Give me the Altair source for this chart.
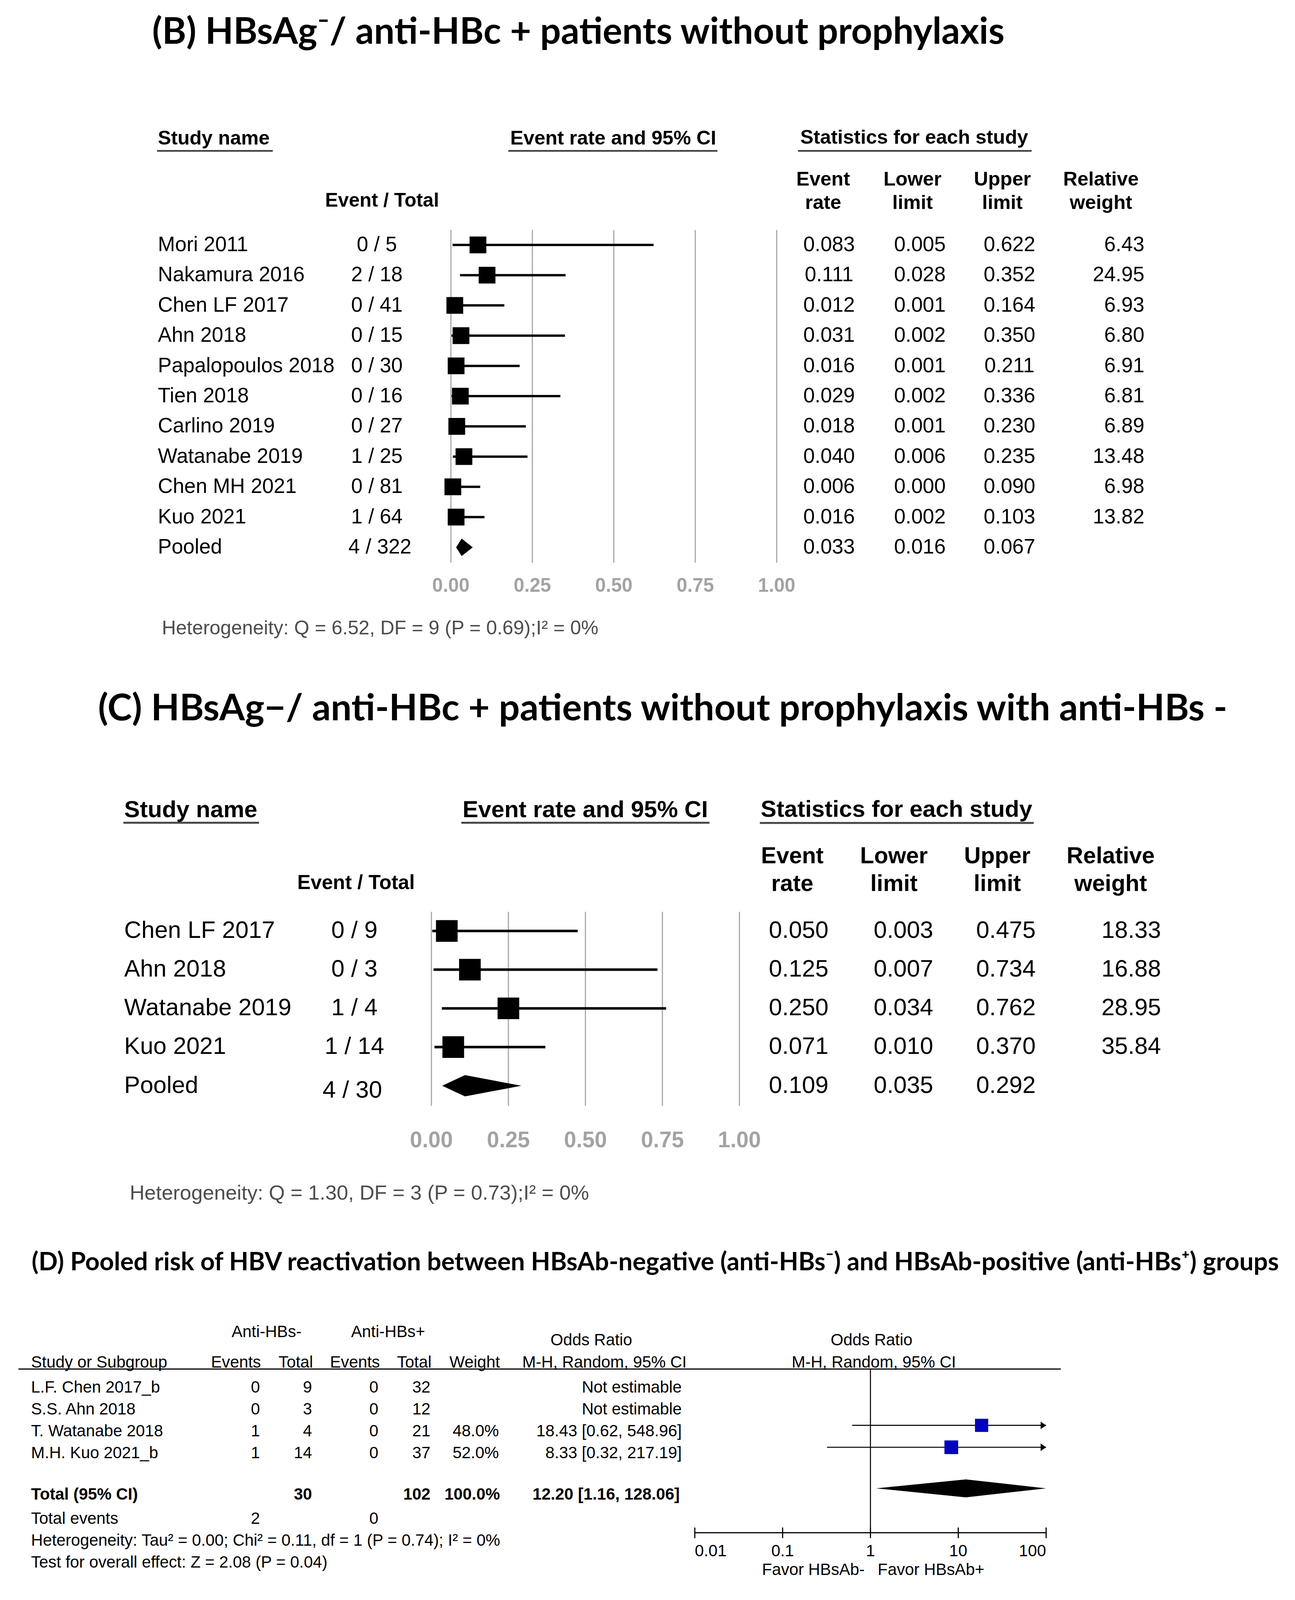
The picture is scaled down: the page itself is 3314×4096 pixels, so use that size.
import altair as alt
import pandas as pd

# ---------------- data (B) ----------------
b_studies = ["Mori 2011", "Nakamura 2016", "Chen LF 2017", "Ahn 2018", "Papalopoulos 2018",
             "Tien 2018", "Carlino 2019", "Watanabe 2019", "Chen MH 2021", "Kuo 2021", "Pooled"]
b_event_total = ["0 / 5", "2 / 18", "0 / 41", "0 / 15", "0 / 30", "0 / 16", "0 / 27",
                 "1 / 25", "0 / 81", "1 / 64", "4 / 322"]
b_rate = [0.083, 0.111, 0.012, 0.031, 0.016, 0.029, 0.018, 0.040, 0.006, 0.016, 0.033]
b_lower = [0.005, 0.028, 0.001, 0.002, 0.001, 0.002, 0.001, 0.006, 0.000, 0.002, 0.016]
b_upper = [0.622, 0.352, 0.164, 0.350, 0.211, 0.336, 0.230, 0.235, 0.090, 0.103, 0.067]
b_weight = [6.43, 24.95, 6.93, 6.80, 6.91, 6.81, 6.89, 13.48, 6.98, 13.82, None]
b_ticks = [0.0, 0.25, 0.5, 0.75, 1.0]

# ---------------- data (C) ----------------
c_studies = ["Chen LF 2017", "Ahn 2018", "Watanabe 2019", "Kuo 2021", "Pooled"]
c_event_total = ["0 / 9", "0 / 3", "1 / 4", "1 / 14", "4 / 30"]
c_rate = [0.050, 0.125, 0.250, 0.071, 0.109]
c_lower = [0.003, 0.007, 0.034, 0.010, 0.035]
c_upper = [0.475, 0.734, 0.762, 0.370, 0.292]
c_weight = [18.33, 16.88, 28.95, 35.84, None]
c_ticks = [0.0, 0.25, 0.5, 0.75, 1.0]

# ---------------- data (D) ----------------
d_studies = ["L.F. Chen 2017_b", "S.S. Ahn 2018", "T. Watanabe 2018", "M.H. Kuo 2021_b"]
d_events_neg = [0, 0, 1, 1]
d_total_neg = [9, 3, 4, 14]
d_events_pos = [0, 0, 0, 0]
d_total_pos = [32, 12, 21, 37]
d_weight = [None, None, 48.0, 52.0]
d_or = [None, None, 18.43, 8.33]
d_or_lower = [None, None, 0.62, 0.32]
d_or_upper = [None, None, 548.96, 217.19]
d_total_counts = [30, 102]
d_total_events = [2, 0]
d_total_weight = 100.0
d_pooled = [12.20, 1.16, 128.06]
d_ticks = [0.01, 0.1, 1, 10, 100]
d_tick_labels = ["0.01", "0.1", "1", "10", "100"]

# ---------------- layout helpers ----------------
K = 3314 / 1268.0          # reference-preview px -> page px


def P(v):
    return round(v * K - 8, 2)


def F(v):
    return round(v * K, 2)


ARIAL = "Liberation Sans"
TITLE = "Lato"
GRID = "#a8a8a8"
TICK = "#a3a3a3"
UNDER = "#454545"
HET = "#4d4d4d"
ONE = pd.DataFrame({"t": [""]})


def txt(s, x, y, size, bold=False, align="left", color="black", font=ARIAL):
    return alt.Chart(pd.DataFrame({"t": [s]})).mark_text(
        align=align, baseline="middle", fontSize=F(size),
        fontWeight="bold" if bold else "normal", color=color, font=font
    ).encode(text="t:N", x=alt.value(P(x)), y=alt.value(P(y)))


def hline(x1, x2, y, w, color):
    return alt.Chart(ONE).mark_rule(color=color, strokeWidth=w).encode(
        x=alt.value(P(x1)), x2=alt.value(P(x2)), y=alt.value(P(y)))


def forest(names, et, rate, lo, hi, wt, ticks, c):
    n = len(names)
    df = pd.DataFrame({"name": names, "et": et, "rate": rate, "lo": lo, "hi": hi, "w": wt})
    df["row"] = list(range(n))
    df["rate_s"] = [f"{v:.3f}" for v in rate]
    df["lo_s"] = [f"{v:.3f}" for v in lo]
    df["hi_s"] = [f"{v:.3f}" for v in hi]
    df["w_s"] = ["" if v is None else f"{v:.2f}" for v in wt]
    xs = alt.Scale(domain=[0, 1], range=[P(c["x0"]), P(c["x1"])], zero=False, nice=False)
    ys = alt.Scale(domain=[0, n - 1], range=[P(c["y0"]), P(c["yN"])], zero=False, nice=False)

    def X(f):
        return alt.X(f, scale=xs, axis=None)

    def Y(f="row:Q"):
        return alt.Y(f, scale=ys, axis=None)

    studies = df.iloc[:-1]
    pooled = df.iloc[-1:]
    tdf = pd.DataFrame({"t": ticks, "lab": [f"{t:.2f}" for t in ticks]})
    L = []
    L.append(alt.Chart(tdf).mark_rule(color=GRID, strokeWidth=c["grid_w"]).encode(
        x=X("t:Q"), y=alt.value(P(c["gt"])), y2=alt.value(P(c["gb"]))))
    L.append(alt.Chart(tdf).mark_text(font=ARIAL, fontSize=F(c["tick_size"]), fontWeight="bold",
                                      color=TICK, baseline="middle").encode(
        x=X("t:Q"), y=alt.value(P(c["tick_y"])), text="lab:N"))
    L.append(alt.Chart(studies).mark_rule(color="black", strokeWidth=c["ci_w"]).encode(
        x=X("lo:Q"), x2="hi:Q", y=Y()))
    L.append(alt.Chart(studies).mark_square(color="black", opacity=1, size=F(c["sq"]) ** 2).encode(
        x=X("rate:Q"), y=Y()))
    h = c["dia_h"]
    r = n - 1
    dia = pd.DataFrame({"x": [lo[-1], rate[-1], hi[-1]], "ya": [r, r - h, r], "yb": [r, r + h, r]})
    L.append(alt.Chart(dia).mark_area(color="black", opacity=1, orient="vertical").encode(
        x=X("x:Q"), y=Y("ya:Q"), y2="yb:Q"))
    # text columns
    L.append(alt.Chart(df).mark_text(font=ARIAL, fontSize=F(c["size"]), align="left", baseline="middle").encode(
        x=alt.value(P(c["name_x"])), y=Y(), text="name:N"))
    L.append(alt.Chart(studies).mark_text(font=ARIAL, fontSize=F(c["size"]), align="center", baseline="middle").encode(
        x=alt.value(P(c["et_x"])), y=Y(), text="et:N"))
    L.append(alt.Chart(pooled).mark_text(font=ARIAL, fontSize=F(c["size"]), align="center", baseline="middle",
                                         dx=F(c["pool_dx"]), dy=F(c["pool_dy"])).encode(
        x=alt.value(P(c["et_x"])), y=Y(), text="et:N"))
    for col, xx in zip(["rate_s", "lo_s", "hi_s"], c["stat_x"]):
        L.append(alt.Chart(df).mark_text(font=ARIAL, fontSize=F(c["size"]), align="center", baseline="middle").encode(
            x=alt.value(P(xx)), y=Y(), text=f"{col}:N"))
    L.append(alt.Chart(studies).mark_text(font=ARIAL, fontSize=F(c["size"]), align="right", baseline="middle").encode(
        x=alt.value(P(c["w_x"])), y=Y(), text="w_s:N"))
    return L


layers = []

# ================= panel B =================
layers.append(txt("(B) HBsAg\u207b/ anti-HBc + patients without prophylaxis", 149, 32, 35.8, bold=True, font=TITLE))
hb = 19.3
layers += [
    txt("Study name", 154.6, 136, hb, bold=True),
    hline(153.8, 267.1, 147.8, 4.5, UNDER),
    txt("Event rate and 95% CI", 499.6, 136, hb, bold=True),
    hline(497.7, 702.5, 147.8, 4.5, UNDER),
    txt("Statistics for each study", 783.6, 135.1, hb, bold=True),
    hline(781.4, 1010.1, 147.8, 4.5, UNDER),
    txt("Event / Total", 374.1, 196.8, 19, bold=True, align="center"),
]
for (a, b), xx in zip([("Event", "rate"), ("Lower", "limit"), ("Upper", "limit"), ("Relative", "weight")],
                      [806, 893.5, 981.5, 1078]):
    layers.append(txt(a, xx, 176.1, hb, bold=True, align="center"))
    layers.append(txt(b, xx, 198.9, hb, bold=True, align="center"))

layers += forest(b_studies, b_event_total, b_rate, b_lower, b_upper, b_weight, b_ticks, dict(
    x0=441.5, x1=760.5, y0=239.9, yN=536.1, gt=225.3, gb=551.3, grid_w=3, tick_y=574.1, tick_size=18.8,
    ci_w=6, sq=16.4, dia_h=0.29, size=20.2, name_x=154.6, et_x=369, pool_dx=3, pool_dy=0,
    stat_x=[811.8, 900.7, 988.4], w_x=1120.5))
layers.append(txt("Heterogeneity: Q = 6.52, DF = 9 (P = 0.69);I\u00b2 = 0%", 158.5, 615.5, 19.1, color=HET))

# ================= panel C =================
layers.append(txt("(C) HBsAg\u2212/ anti-HBc + patients without prophylaxis with anti-HBs -", 96, 695, 36.2, bold=True, font=TITLE))
hc = 23
layers += [
    txt("Study name", 121.6, 793.4, hc, bold=True),
    hline(120.8, 253.6, 805.9, 5, UNDER),
    txt("Event rate and 95% CI", 452.9, 793.4, hc, bold=True),
    hline(451.7, 694.7, 805.9, 5, UNDER),
    txt("Statistics for each study", 744.9, 793, hc, bold=True),
    hline(744.0, 1012.2, 806.1, 5, UNDER),
    txt("Event / Total", 348.6, 865, 19.6, bold=True, align="center"),
]
for (a, b), xx in zip([("Event", "rate"), ("Lower", "limit"), ("Upper", "limit"), ("Relative", "weight")],
                      [775.8, 875.3, 976.5, 1087.5]):
    layers.append(txt(a, xx, 838.6, 22.5, bold=True, align="center"))
    layers.append(txt(b, xx, 865.8, 22.5, bold=True, align="center"))

layers += forest(c_studies, c_event_total, c_rate, c_lower, c_upper, c_weight, c_ticks, dict(
    x0=422.4, x1=724.0, y0=911.9, yN=1063.5, gt=893.1, gb=1083.2, grid_w=3, tick_y=1117.3, tick_size=21.6,
    ci_w=6.5, sq=21.2, dia_h=0.275, size=23.3, name_x=121.6, et_x=347, pool_dx=-2, pool_dy=4.7,
    stat_x=[782, 884.6, 984.9], w_x=1136.8))
layers.append(txt("Heterogeneity: Q = 1.30, DF = 3 (P = 0.73);I\u00b2 = 0%", 127, 1169, 20.1, color=HET))

# ================= panel D =================
layers.append(txt("(D) Pooled risk of HBV reactivation between HBsAb-negative (anti-HBs\u207b) and "
                  "HBsAb-positive (anti-HBs\u207a) groups", 31, 1237, 24.6, bold=True, font=TITLE))
fd = 16
cols_right = [254.5, 305.5, 370.5, 421.5, 488.5, 667.5]
layers += [
    txt("Anti-HBs-", 261, 1304.6, fd, align="center"),
    txt("Anti-HBs+", 380, 1304.6, fd, align="center"),
    txt("Odds Ratio", 579, 1312.9, fd, align="center"),
    txt("Odds Ratio", 853.4, 1312.9, fd, align="center"),
    txt("Study or Subgroup", 30.4, 1334.6, fd),
    txt("Events", 255.5, 1334.6, fd, align="right"),
    txt("Total", 306.5, 1334.6, fd, align="right"),
    txt("Events", 372, 1334.6, fd, align="right"),
    txt("Total", 422.5, 1334.6, fd, align="right"),
    txt("Weight", 489.5, 1334.6, fd, align="right"),
    txt("M-H, Random, 95% CI", 591.8, 1334.6, fd, align="center"),
    txt("M-H, Random, 95% CI", 855.6, 1334.6, fd, align="center"),
    hline(18, 1038.7, 1341, 3, "black"),
]

dd = pd.DataFrame({
    "name": d_studies,
    "e1": [str(v) for v in d_events_neg],
    "t1": [str(v) for v in d_total_neg],
    "e2": [str(v) for v in d_events_pos],
    "t2": [str(v) for v in d_total_pos],
    "w": ["" if v is None else f"{v:.1f}%" for v in d_weight],
    "or_s": ["Not estimable" if o is None else f"{o:.2f} [{a:.2f}, {b:.2f}]"
             for o, a, b in zip(d_or, d_or_lower, d_or_upper)],
})
dd["row"] = list(range(len(d_studies)))
ysD = alt.Scale(domain=[0, 3], range=[P(1359), P(1423.5)], zero=False, nice=False)
YD = alt.Y("row:Q", scale=ysD, axis=None)
for col, xx in zip(["e1", "t1", "e2", "t2", "w", "or_s"], cols_right):
    layers.append(alt.Chart(dd).mark_text(font=ARIAL, fontSize=F(fd), align="right", baseline="middle").encode(
        x=alt.value(P(xx)), y=YD, text=f"{col}:N"))
layers.append(alt.Chart(dd).mark_text(font=ARIAL, fontSize=F(fd), align="left", baseline="middle").encode(
    x=alt.value(P(30.4)), y=YD, text="name:N"))

TOT_ROW = 4.875
tot = pd.DataFrame({
    "row": [TOT_ROW] * 5,
    "lab": ["Total (95% CI)", str(d_total_counts[0]), str(d_total_counts[1]), f"{d_total_weight:.1f}%",
            f"{d_pooled[0]:.2f} [{d_pooled[1]:.2f}, {d_pooled[2]:.2f}]"],
    "al": ["left", "right", "right", "right", "right"],
})
tot_x = [30.4, 305.5, 421.5, 489.5, 665.5]
for i in range(5):
    layers.append(alt.Chart(tot.iloc[[i]]).mark_text(font=ARIAL, fontSize=F(fd), fontWeight="bold",
                                                     align=tot["al"][i], baseline="middle").encode(
        x=alt.value(P(tot_x[i])), y=YD, text="lab:N"))

layers += [
    txt("Total events", 30.4, 1487.5, fd),
    txt(str(d_total_events[0]), 254.5, 1487.5, fd, align="right"),
    txt(str(d_total_events[1]), 370.5, 1487.5, fd, align="right"),
    txt("Heterogeneity: Tau\u00b2 = 0.00; Chi\u00b2 = 0.11, df = 1 (P = 0.74); I\u00b2 = 0%", 30.4, 1509, fd),
    txt("Test for overall effect: Z = 2.08 (P = 0.04)", 30.4, 1530.5, fd),
]

# forest D
xsD = alt.Scale(type="log", domain=[0.01, 100], range=[P(680.3), P(1024.3)], nice=False)
yfD = alt.Scale(domain=[0, 3], range=[P(1353.2), P(1417.6)], zero=False, nice=False)
XMAX = d_ticks[-1]
fdf = pd.DataFrame({"or": d_or, "lo": d_or_lower, "hi": d_or_upper, "w": d_weight,
                    "row": list(range(len(d_or)))}).dropna()
fdf["hi_c"] = [min(v, XMAX) for v in fdf["hi"]]
fdf["arrow"] = [XMAX if v > XMAX else None for v in fdf["hi"]]

layers.append(alt.Chart(ONE).mark_rule(color="black", strokeWidth=2.6).encode(
    x=alt.datum(1, scale=xsD, axis=None), y=alt.value(P(1341)), y2=alt.value(P(1501.3))))
layers.append(alt.Chart(fdf).mark_rule(color="black", strokeWidth=2.6).encode(
    x=alt.X("lo:Q", scale=xsD, axis=None), x2="hi_c:Q", y=alt.Y("row:Q", scale=yfD, axis=None)))
layers.append(alt.Chart(fdf.dropna(subset=["arrow"])).mark_point(
    shape="M-1.45,-1L0,0L-1.45,1Z", filled=True, color="black", opacity=1, size=(F(7.4)) ** 2).encode(
    x=alt.X("arrow:Q", scale=xsD, axis=None), y=alt.Y("row:Q", scale=yfD, axis=None)))
layers.append(alt.Chart(fdf).mark_square(color="#0000c0", opacity=1).encode(
    x=alt.X("or:Q", scale=xsD, axis=None), y=alt.Y("row:Q", scale=yfD, axis=None),
    size=alt.Size("w:Q", scale=alt.Scale(domain=[0, 100], range=[0, 2 * F(13.2) ** 2]), legend=None)))
dh = 0.41
diaD = pd.DataFrame({"x": [d_pooled[1], d_pooled[0], min(d_pooled[2], XMAX)],
                     "ya": [TOT_ROW, TOT_ROW - dh, TOT_ROW], "yb": [TOT_ROW, TOT_ROW + dh, TOT_ROW]})
layers.append(alt.Chart(diaD).mark_area(color="black", opacity=1, orient="vertical").encode(
    x=alt.X("x:Q", scale=xsD, axis=None), y=alt.Y("ya:Q", scale=yfD, axis=None), y2="yb:Q"))

# log axis
tD = pd.DataFrame({"t": d_ticks, "lab": d_tick_labels})
layers.append(alt.Chart(tD.iloc[[0, -1]]).mark_rule(color="black", strokeWidth=3).encode(
    x=alt.X("min(t):Q", scale=xsD, axis=None), x2="max(t):Q", y=alt.value(P(1501.3))))
layers.append(alt.Chart(tD).mark_rule(color="black", strokeWidth=3).encode(
    x=alt.X("t:Q", scale=xsD, axis=None), y=alt.value(P(1496.2)), y2=alt.value(P(1506.6))))
for idx, al in [([0], "left"), ([1, 2, 3], "center"), ([4], "right")]:
    layers.append(alt.Chart(tD.iloc[idx]).mark_text(font=ARIAL, fontSize=F(fd), align=al, baseline="middle").encode(
        x=alt.X("t:Q", scale=xsD, axis=None), y=alt.value(P(1519.4)), text="lab:N"))
layers += [
    txt("Favor HBsAb-", 846.6, 1537.8, fd, align="right"),
    txt("Favor HBsAb+", 859.4, 1537.8, fd, align="left"),
]

chart = alt.layer(*layers).resolve_scale(x="independent", y="independent", size="independent").properties(
    width=3298, height=4080, padding=0, autosize=alt.AutoSizeParams(type="none")
).configure_view(stroke=None)

chart.save("out.html", embed_options={"renderer": "svg", "actions": False})
